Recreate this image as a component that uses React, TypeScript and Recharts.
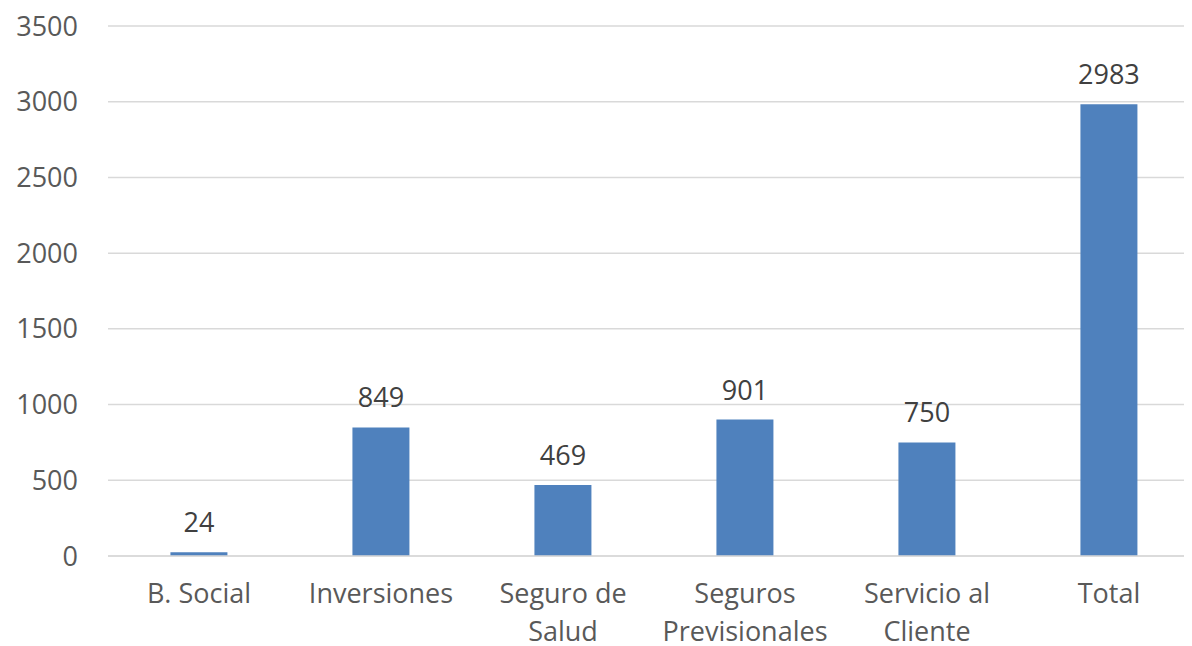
import React from "react";
import { BarChart, Bar, XAxis, YAxis, CartesianGrid, LabelList } from "recharts";

const categories = ["B. Social", "Inversiones", "Seguro de\nSalud", "Seguros\nPrevisionales", "Servicio al\nCliente", "Total"];
const values = [24, 849, 469, 901, 750, 2983];
const yTicks = [0, 500, 1000, 1500, 2000, 2500, 3000, 3500];

const data = categories.map((c, i) => ({ name: c, value: values[i] }));

const FONT = "'Open Sans', 'Noto Sans', sans-serif";

const XTick = (props: any) => {
  const { x, y, payload } = props;
  const lines = String(payload.value).split("\n");
  return (
    <text
      x={x}
      y={y}
      textAnchor="middle"
      fontSize={27}
      fontFamily={FONT}
      fill="#595959"
    >
      {lines.map((l: string, i: number) => (
        <tspan key={i} x={x} dy={i === 0 ? "0.71em" : 38}>
          {l}
        </tspan>
      ))}
    </text>
  );
};

export default function App() {
  return (
    <div style={{ width: 1184, overflow: "hidden" }}>
      <BarChart
        width={1192}
        height={650}
        data={data}
        margin={{ top: 18, right: 0, bottom: 12, left: 0 }}
        barCategoryGap="34.3%"
      >
        <CartesianGrid vertical={false} stroke="#d9d9d9" strokeWidth={1.5} />
        <XAxis
          dataKey="name"
          tick={<XTick />}
          tickLine={false}
          axisLine={{ stroke: "#d9d9d9", strokeWidth: 1.5 }}
          interval={0}
          height={90}
          tickMargin={22}
        />
        <YAxis
          domain={[0, 3500]}
          ticks={yTicks}
          width={100}
          tickLine={false}
          axisLine={false}
          tickMargin={24}
          tick={{ fontSize: 27, fontFamily: FONT, fill: "#595959" }}
        />
        <Bar dataKey="value" fill="#4f81bd" isAnimationActive={false}>
          <LabelList
            dataKey="value"
            position="top"
            offset={20}
            style={{ fontSize: 27, fontFamily: FONT, fill: "#404040" }}
          />
        </Bar>
      </BarChart>
    </div>
  );
}
